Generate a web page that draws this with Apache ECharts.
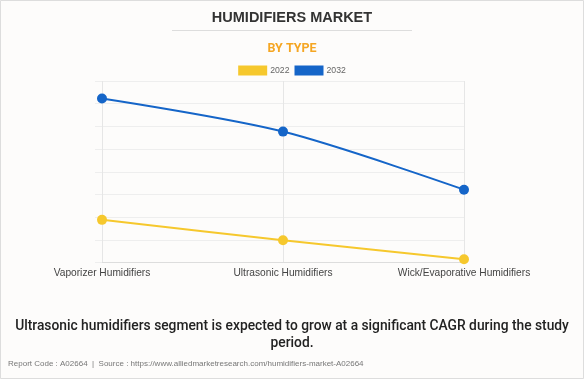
<!DOCTYPE html>
<html>
<head>
<meta charset="utf-8">
<script src="https://cdn.jsdelivr.net/npm/echarts@6/dist/echarts.min.js"></script>
<style>
html,body{margin:0;padding:0;background:#fdfcfb;}
#c{width:584px;height:379px;}
</style>
</head>
<body>
<div id="c"></div>
<script>
const categories = ['Vaporizer Humidifiers', 'Ultrasonic Humidifiers', 'Wick/Evaporative Humidifiers'];
const seriesNames = ['2022', '2032'];
const values2022 = [1.88, 0.98, 0.14];
const values2032 = [7.23, 5.77, 3.21];
const titleText = 'HUMIDIFIERS MARKET';
const subtitleText = 'BY TYPE';
const noteText = 'Ultrasonic humidifiers segment is expected to grow at a significant CAGR during the study\nperiod.';
const sourceText = 'Report Code : A02664  |  Source : https://www.alliedmarketresearch.com/humidifiers-market-A02664';

const chart = echarts.init(document.getElementById('c'), null, {renderer: 'canvas'});
const font = '"Liberation Sans", Arial, sans-serif';
chart.setOption({
  backgroundColor: '#fdfcfb',
  animation: false,
  title: [
    {text: titleText, left: 'center', top: 10, padding: 0,
     textStyle: {fontFamily: font, fontSize: 14.5, fontWeight: 'bold', color: '#333333'}},
    {text: subtitleText, left: 'center', top: 42, padding: 0,
     textStyle: {fontFamily: 'Roboto, ' + font, fontSize: 12.5, fontWeight: 'bold', color: '#f5a623'}},
    {text: sourceText, left: 8, top: 360, padding: 0,
     textStyle: {fontFamily: font, fontSize: 8, fontWeight: 'normal', color: '#777777'}}
  ],
  graphic: [
    {type: 'rect', shape: {x: 0.5, y: 0.5, width: 583, height: 378}, style: {fill: 'none', stroke: '#dddddd', lineWidth: 1}, silent: true},
    {type: 'line', shape: {x1: 172, y1: 30.5, x2: 412, y2: 30.5}, style: {stroke: '#dddddd', lineWidth: 1}, silent: true},
    {type: 'text', x: 292, y: 335, silent: true,
     style: {text: noteText, fontFamily: 'Roboto, ' + font, fontSize: 13.8, fontWeight: 500, fill: '#222222',
             lineHeight: 16.5, align: 'center', verticalAlign: 'middle'}}
  ],
  legend: {
    top: 65.5, left: 'center', padding: 0,
    itemWidth: 29, itemHeight: 10, itemGap: 5,
    icon: 'rect',
    textStyle: {fontFamily: font, fontSize: 8.7, color: '#666666', padding: [0, 0, 0, -2]},
    data: seriesNames
  },
  grid: {left: 102, right: 120, top: 81, bottom: 116.5, containLabel: false},
  xAxis: {
    type: 'category', data: categories, boundaryGap: false,
    axisLine: {show: true, lineStyle: {color: '#dddddd'}},
    axisTick: {show: false},
    splitLine: {show: true, lineStyle: {color: '#e6e6e6'}},
    axisLabel: {fontFamily: font, fontSize: 10.2, color: '#444444', margin: 6, interval: 0}
  },
  yAxis: {
    type: 'value', min: 0, max: 8, interval: 1,
    axisLine: {show: false},
    axisTick: {show: true, length: 7, lineStyle: {color: '#eeeeee'}},
    axisLabel: {show: false},
    splitLine: {show: true, lineStyle: {color: '#eeeeee'}}
  },
  series: [
    {name: seriesNames[0], type: 'line', data: values2022, smooth: 0.3,
     symbol: 'circle', symbolSize: 10,
     itemStyle: {color: '#f6c82d'}, lineStyle: {width: 2, color: '#f6c82d'}},
    {name: seriesNames[1], type: 'line', data: values2032, smooth: 0.3,
     symbol: 'circle', symbolSize: 10,
     itemStyle: {color: '#1565c8'}, lineStyle: {width: 2, color: '#1565c8'}}
  ]
});
</script>
</body>
</html>
